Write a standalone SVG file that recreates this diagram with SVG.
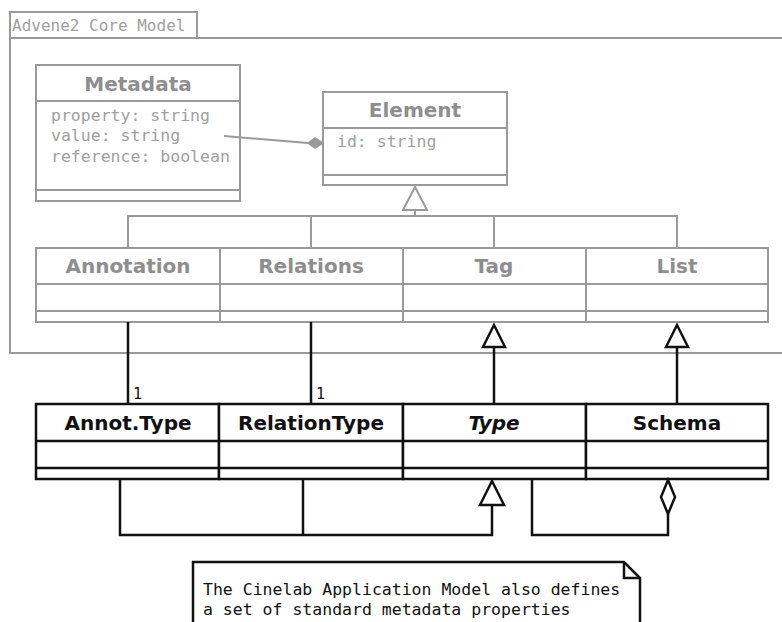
<svg xmlns="http://www.w3.org/2000/svg" width="782" height="622" viewBox="0 0 782 622">
<style>
.g{fill:#fff;stroke:#9a9a9a;stroke-width:2}
.gl{fill:none;stroke:#9a9a9a;stroke-width:2}
.b{fill:#fff;stroke:#111;stroke-width:2.5}
.bl{fill:none;stroke:#111;stroke-width:2.5}
.hg{font-family:"DejaVu Sans",sans-serif;font-weight:bold;font-size:20px;fill:#8e8e8e;text-anchor:middle}
.hb{font-family:"DejaVu Sans",sans-serif;font-weight:bold;font-size:20px;fill:#111;text-anchor:middle}
.m{font-family:"DejaVu Sans Mono",monospace;font-size:16.5px;fill:#a0a0a0}
.mb{font-family:"DejaVu Sans Mono",monospace;font-size:16.5px;fill:#111}
.one{font-family:"DejaVu Sans Mono",monospace;font-size:15px;fill:#111}
</style>
<rect width="782" height="622" fill="#fff"/>
<g id="package">
<rect class="g" x="10" y="12" width="187" height="26"/>
<rect class="g" x="10" y="38" width="800" height="315"/>
<text class="m" x="12" y="31" style="font-size:16px">Advene2 Core Model</text>
</g>
<g id="metadata">
<rect class="g" x="36" y="65" width="204" height="136"/>
<line class="gl" x1="36" y1="101" x2="240" y2="101"/>
<line class="gl" x1="36" y1="190" x2="240" y2="190"/>
<text class="hg" x="138" y="91">Metadata</text>
<text class="m" x="51" y="121">property: string</text>
<text class="m" x="51" y="141">value: string</text>
<text class="m" x="51" y="162">reference: boolean</text>
</g>
<g id="element">
<rect class="g" x="323" y="92" width="184" height="93"/>
<line class="gl" x1="323" y1="128" x2="507" y2="128"/>
<line class="gl" x1="323" y1="175" x2="507" y2="175"/>
<text class="hg" x="415" y="117">Element</text>
<text class="m" x="337" y="147">id: string</text>
</g>
<g id="annotation">
<rect class="g" x="36" y="248" width="184" height="74"/>
<line class="gl" x1="36" y1="284" x2="220" y2="284"/>
<line class="gl" x1="36" y1="311" x2="220" y2="311"/>
<text class="hg" x="128" y="273">Annotation</text>
</g>
<g id="relations">
<rect class="g" x="220" y="248" width="183" height="74"/>
<line class="gl" x1="220" y1="284" x2="403" y2="284"/>
<line class="gl" x1="220" y1="311" x2="403" y2="311"/>
<text class="hg" x="311" y="273">Relations</text>
</g>
<g id="tag">
<rect class="g" x="403" y="248" width="183" height="74"/>
<line class="gl" x1="403" y1="284" x2="586" y2="284"/>
<line class="gl" x1="403" y1="311" x2="586" y2="311"/>
<text class="hg" x="494" y="273">Tag</text>
</g>
<g id="list">
<rect class="g" x="586" y="248" width="182" height="74"/>
<line class="gl" x1="586" y1="284" x2="768" y2="284"/>
<line class="gl" x1="586" y1="311" x2="768" y2="311"/>
<text class="hg" x="677" y="273">List</text>
</g>
<g id="annottype">
<rect class="b" x="36" y="404" width="183" height="75"/>
<line class="bl" x1="36" y1="441" x2="219" y2="441"/>
<line class="bl" x1="36" y1="468" x2="219" y2="468"/>
<text class="hb" x="128" y="430">Annot.Type</text>
</g>
<g id="relationtype">
<rect class="b" x="219" y="404" width="184" height="75"/>
<line class="bl" x1="219" y1="441" x2="403" y2="441"/>
<line class="bl" x1="219" y1="468" x2="403" y2="468"/>
<text class="hb" x="311" y="430">RelationType</text>
</g>
<g id="type">
<rect class="b" x="403" y="404" width="183" height="75"/>
<line class="bl" x1="403" y1="441" x2="586" y2="441"/>
<line class="bl" x1="403" y1="468" x2="586" y2="468"/>
<text class="hb" x="494" y="430" font-style="italic">Type</text>
</g>
<g id="schema">
<rect class="b" x="586" y="404" width="182" height="75"/>
<line class="bl" x1="586" y1="441" x2="768" y2="441"/>
<line class="bl" x1="586" y1="468" x2="768" y2="468"/>
<text class="hb" x="677" y="430">Schema</text>
</g>
<g id="note">
<path class="b" d="M193 630 V562 H624 L640 578 V630"/>
<path class="bl" d="M624 562 V578 H640"/>
<text class="mb" x="203" y="595">The Cinelab Application Model also defines</text>
<text class="mb" x="203" y="615">a set of standard metadata properties</text>
</g>
<g id="connectors">
<line class="gl" x1="224" y1="136" x2="308" y2="143"/>
<polygon points="308,143 315,138 323,143 315,148" fill="#9a9a9a" stroke="#9a9a9a" stroke-width="1.5"/>
<polyline class="gl" points="128,248 128,216 677,216 677,248"/>
<line class="gl" x1="311" y1="216" x2="311" y2="248"/>
<line class="gl" x1="494" y1="216" x2="494" y2="248"/>
<line class="gl" x1="415" y1="210" x2="415" y2="216"/>
<polygon class="g" points="415,187 427,210 403,210"/>
<line class="bl" x1="128" y1="322" x2="128" y2="404"/>
<line class="bl" x1="311" y1="322" x2="311" y2="404"/>
<text class="one" x="133" y="399">1</text>
<text class="one" x="316" y="399">1</text>
<line class="bl" x1="494" y1="347" x2="494" y2="404"/>
<polygon class="b" points="494,325 505,347 483,347"/>
<line class="bl" x1="677" y1="347" x2="677" y2="404"/>
<polygon class="b" points="677,325 688,347 666,347"/>
<polyline class="bl" points="120,479 120,535 492,535 492,505"/>
<line class="bl" x1="303" y1="479" x2="303" y2="535"/>
<polygon class="b" points="492,481 504,505 480,505"/>
<polyline class="bl" points="532,479 532,535 668,535 668,514"/>
<polygon class="b" points="668,480 675,497 668,514 661,497"/>
</g>
</svg>
